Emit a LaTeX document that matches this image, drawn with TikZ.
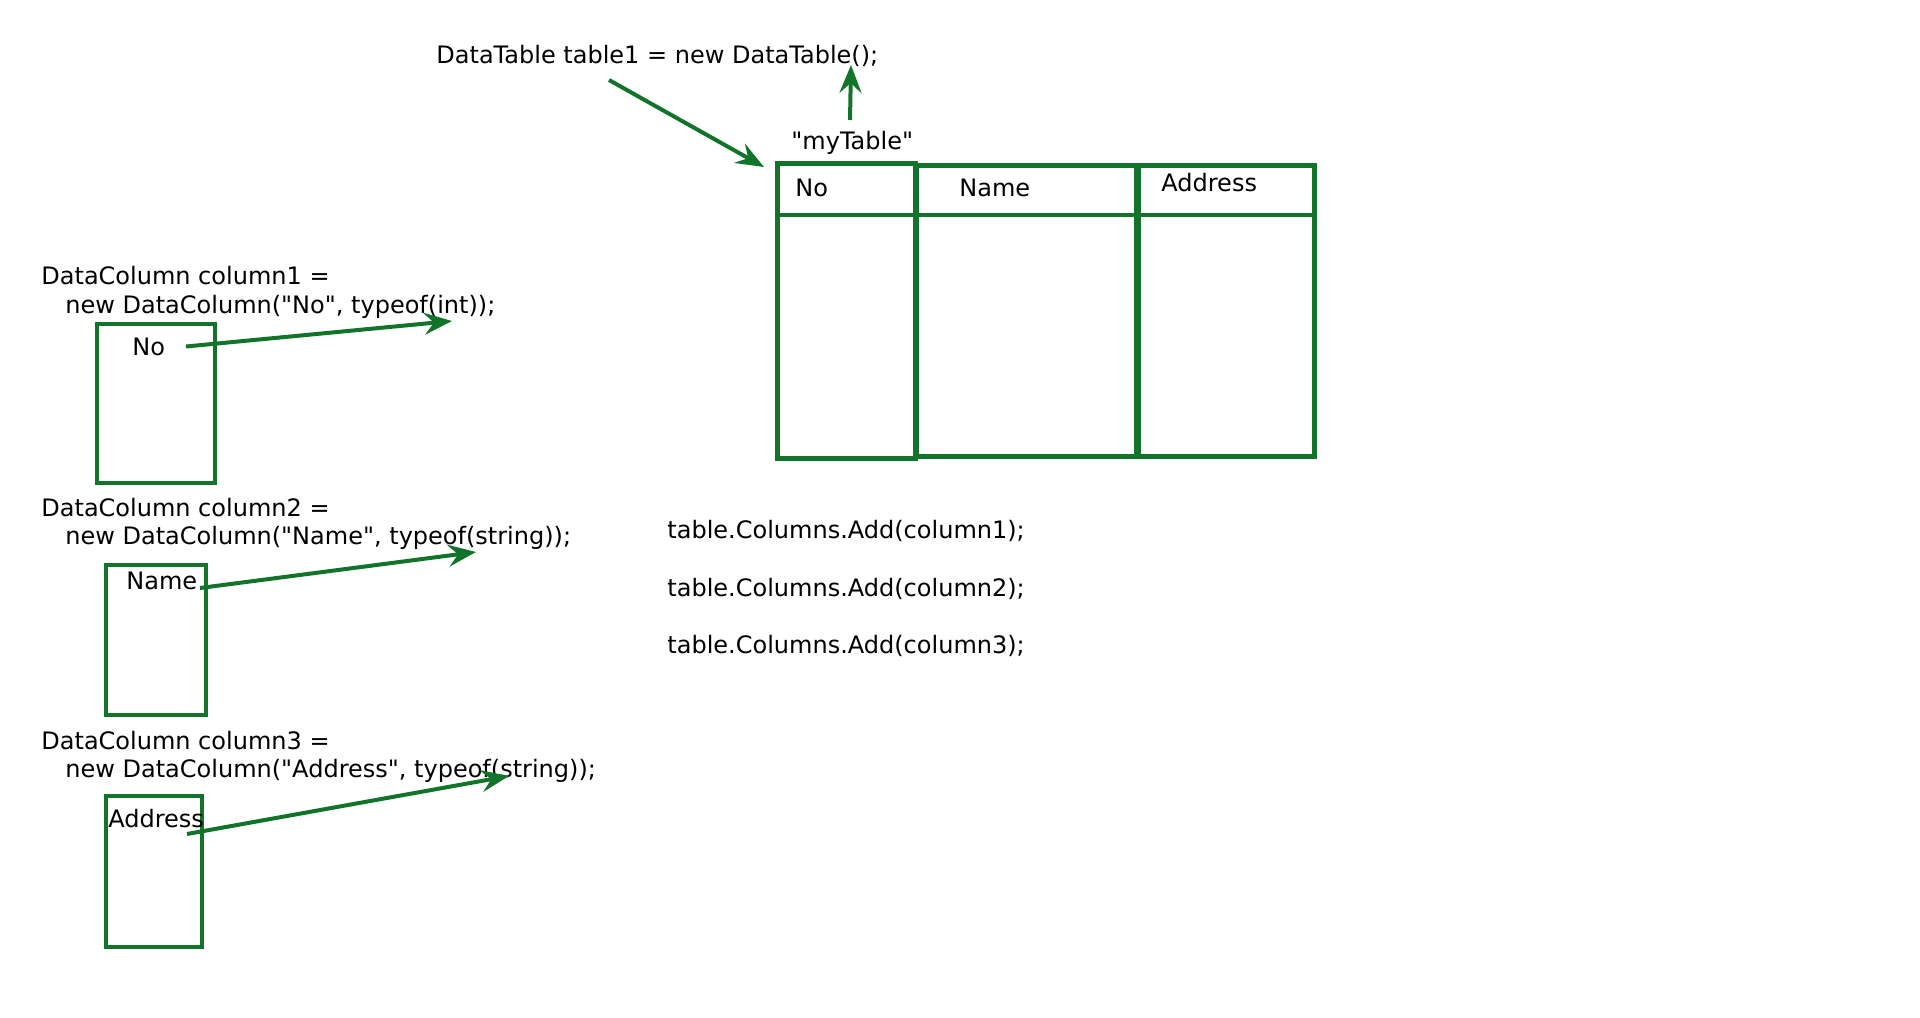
\documentclass[tikz,border=0pt]{standalone}
\usepackage{fontspec}
\setmainfont{DejaVu Sans}
\usetikzlibrary{arrows.meta}
\definecolor{dgreen}{RGB}{18,115,42}

\begin{document}
\begin{tikzpicture}[x=0.5pt,y=-0.5pt,
    every node/.style={inner sep=0pt,anchor=west,font=\fontsize{12}{14}\selectfont},
    colbox/.style={draw=dgreen,line width=2pt,anchor=north west},
    tabcol/.style={draw=dgreen,line width=2.4pt,anchor=north west,minimum height=145.5pt},
    arr/.style={dgreen,line width=2pt,-{Stealth[length=14pt,width=11pt,inset=5pt]}}]
        \useasboundingbox (0,0) rectangle (1920,1017);

        % the table
        \node (newtab) at (436,56) {DataTable table1 = new DataTable();};
        \node (tname) at (791,143) {\textquotedbl myTable\textquotedbl};
        \node (col1) [tabcol,minimum width=69pt,minimum height=147.5pt] at (775,161) {};
        \node (col2) [tabcol,minimum width=110pt] at (914,163) {};
        \node (col3) [tabcol,minimum width=88pt] at (1136,163) {};
        \draw[dgreen,line width=2.4pt] (col1.west |- 0,215) -- (col3.east |- 0,215);
        \node (hno) at (795,188) {No};
        \node (hname) at (959,188) {Name};
        \node (haddr) at (1161,183) {Address};

        \coordinate (a0) at (609,80);
        \coordinate (a1) at (764,167);
        \coordinate (b0) at (850,120);
        \coordinate (b1) at (851,65);
        \draw[arr] (a0) -- (a1);
        \draw[arr] (b0) -- (b1);

        % the columns
        \node (dc1) at (41,276) {DataColumn column1 =};
        \node (nc1) at (65,307) {new DataColumn(\textquotedbl No\textquotedbl, typeof(int));};
        \node (box1) [colbox,minimum width=59pt,minimum height=79.5pt] at (95,321.5) {};
        \node (lno) at (132,347) {No};

        \node (dc2) at (41,508) {DataColumn column2 =};
        \node (nc2) at (65,538) {new DataColumn(\textquotedbl Name\textquotedbl, typeof(string));};
        \node (box2) [colbox,minimum width=50pt,minimum height=75pt] at (103.5,563) {};
        \node (lname) at (126,581) {Name};

        \node (dc3) at (41,741) {DataColumn column3 =};
        \node (nc3) at (65,771) {new DataColumn(\textquotedbl Address\textquotedbl, typeof(string));};
        \node (box3) [colbox,minimum width=48pt,minimum height=75.5pt] at (103.5,793.5) {};
        \node (laddr) at (108,819) {Address};

        \coordinate (s1) at (186,346.5);
        \coordinate (t1) at (452,321);
        \coordinate (s2) at (200,588);
        \coordinate (t2) at (476,552);
        \coordinate (s3) at (187,834);
        \coordinate (t3) at (509,776);
        \draw[arr] (s1) -- (t1);
        \draw[arr] (s2) -- (t2);
        \draw[arr] (s3) -- (t3);

        % adding them
        \node (add1) at (667,531) {table.Columns.Add(column1);};
        \node (add2) at (667,589) {table.Columns.Add(column2);};
        \node (add3) at (667,646) {table.Columns.Add(column3);};
    \end{tikzpicture}
\end{document}
